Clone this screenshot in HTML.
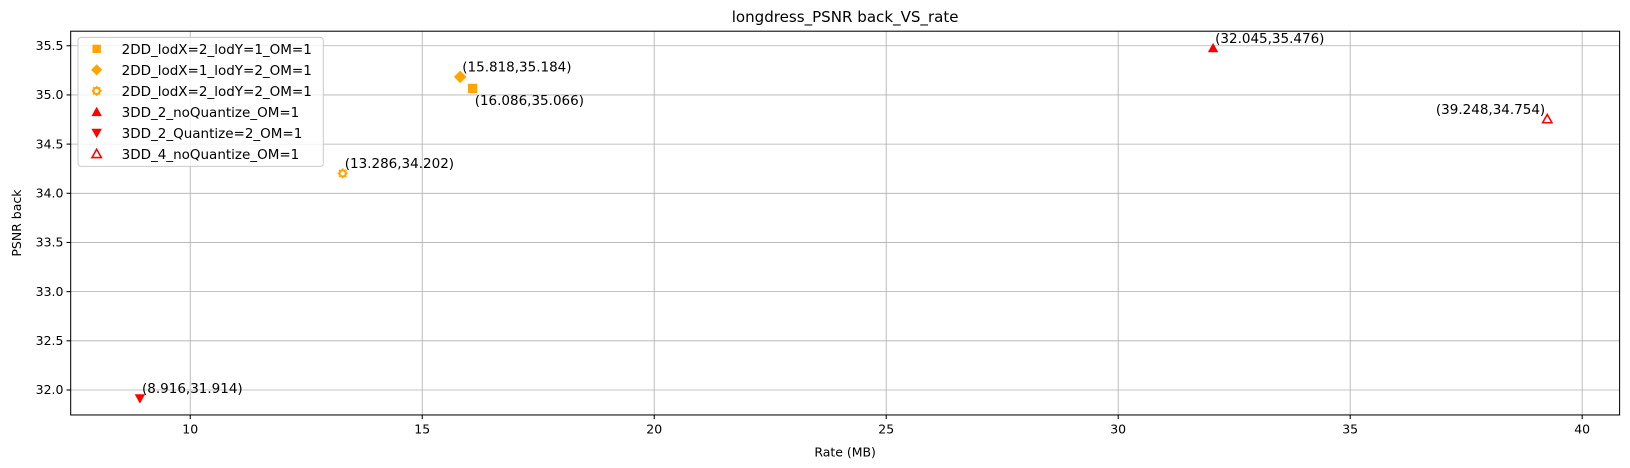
<!DOCTYPE html>
<html><head><meta charset="utf-8"><style>
body{margin:0;background:#fff;overflow:hidden;}
svg{display:block;}
svg text{font-family:"DejaVu Sans","Liberation Sans",sans-serif;}
</style></head><body>
<svg id="chart" width="1630" height="468" viewBox="0 0 1568 450" preserveAspectRatio="none" xmlns="http://www.w3.org/2000/svg"></svg>
<script>
const seriesNames=["2DD_lodX=2_lodY=1_OM=1","2DD_lodX=1_lodY=2_OM=1","2DD_lodX=2_lodY=2_OM=1","3DD_2_noQuantize_OM=1","3DD_2_Quantize=2_OM=1","3DD_4_noQuantize_OM=1"];
const rates=[16.086,15.818,13.286,32.045,8.916,39.248];
const psnr=[35.066,35.184,34.202,35.476,31.914,34.754];
const markers=["square","diamond","gear","tri","tridown","triopen"];
const colors=["orange","orange","orange","red","red","red"];
const xTicks=[10,15,20,25,30,35,40];
const yTicks=[32.0,32.5,33.0,33.5,34.0,34.5,35.0,35.5];
const L=68,R=1558,T=30,B=399;
const sx=v=>183+(v-10)*(1522-183)/30;
const sy=v=>375-(v-32)*(375-44)/3.5;
const svg=document.getElementById('chart');
const NS="http://www.w3.org/2000/svg";
function mk(tag,attrs,parent){const e=document.createElementNS(NS,tag);for(const k in attrs)e.setAttribute(k,attrs[k]);(parent||svg).appendChild(e);return e;}
function marker(type,x,y,c,g,s){
  s=s||1;
  if(type==="square")return mk('rect',{x:x-4.5*s,y:y-4.5*s,width:9*s,height:9*s,fill:c},g);
  if(type==="diamond")return mk('polygon',{points:`${x},${y-6*s} ${x+6*s},${y} ${x},${y+6*s} ${x-6*s},${y}`,fill:c},g);
  if(type==="gear"){const e=mk('g',{},g);mk('circle',{cx:x,cy:y,r:3,fill:'none',stroke:c,'stroke-width':2},e);for(let i=0;i<8;i++){const a=i*Math.PI/4;mk('line',{x1:x+3*Math.cos(a),y1:y+3*Math.sin(a),x2:x+4.8*Math.cos(a),y2:y+4.8*Math.sin(a),stroke:c,'stroke-width':1.6},e);}return e;}
  if(type==="tri")return mk('polygon',{points:`${x},${y-5} ${x+5},${y+4} ${x-5},${y+4}`,fill:c},g);
  if(type==="tridown")return mk('polygon',{points:`${x},${y+5} ${x+5},${y-4} ${x-5},${y-4}`,fill:c},g);
  return mk('polygon',{points:`${x},${y-4.5} ${x+4.5},${y+3.5} ${x-4.5},${y+3.5}`,fill:'none',stroke:c,'stroke-width':1.5},g);
}
const grid=mk('g',{});


xTicks.forEach(t=>{const x=sx(t);
  mk('line',{x1:x,y1:T,x2:x,y2:B,stroke:'#b0b0b0','stroke-width':0.8},grid);
  mk('line',{x1:x,y1:B,x2:x,y2:B+4,stroke:'#000'});
  const tx=mk('text',{x:x,y:B+18,'text-anchor':'middle','font-size':12});tx.textContent=t;
  
  });
yTicks.forEach(t=>{const y=sy(t);
  mk('line',{x1:L,y1:y,x2:R,y2:y,stroke:'#b0b0b0','stroke-width':0.8},grid);
  mk('line',{x1:L-4,y1:y,x2:L,y2:y,stroke:'#000'});
  const tx=mk('text',{x:L-7,y:y+4,'text-anchor':'end','font-size':12});tx.textContent=t.toFixed(1);
  
  });
const frame=mk('rect',{x:L,y:T,width:R-L,height:B-T,fill:'none',stroke:'#000','stroke-width':1});


const title=mk('text',{x:(L+R)/2,y:21,'text-anchor':'middle','font-size':14.5});title.textContent="longdress_PSNR back_VS_rate";


const xt=mk('text',{x:(L+R)/2,y:439,'text-anchor':'middle','font-size':12});xt.textContent="Rate (MB)";


const yt=mk('text',{x:20,y:(T+B)/2,'text-anchor':'middle','font-size':12,transform:`rotate(-90 20 ${(T+B)/2})`});yt.textContent="PSNR back";


rates.forEach((r,i)=>{
  const x=sx(r),y=sy(psnr[i]);
  const g=mk('g',{});
  
  
  marker(markers[i],x,y,colors[i],g,1);
  const lab="("+r+","+psnr[i]+")";
  let a={x:x+2,y:y-5,'font-size':13};
  if(i===0){a={x:x+2,y:y+16,'font-size':13};}
  if(i===5){a={x:x-2,y:y-5,'font-size':13,'text-anchor':'end'};}
  const t=mk('text',a,g);t.textContent=lab;
});
const lg=mk('g',{});


mk('rect',{x:75,y:36,width:236,height:124,rx:3,fill:'#fff','fill-opacity':0.8,stroke:'#ccc'},lg);
seriesNames.forEach((n,i)=>{
  const y=47+i*20.2;
  const e=mk('g',{},lg);
  
  
  marker(markers[i],93,y,colors[i],e,0.9);
  const t=mk('text',{x:117,y:y+5,'font-size':13},e);t.textContent=n;
});
</script>
</body></html>
